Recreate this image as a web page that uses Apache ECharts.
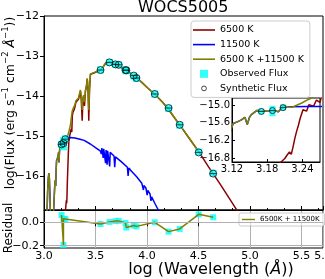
<!DOCTYPE html>
<html><head><meta charset="utf-8">
<script src="https://cdn.jsdelivr.net/npm/echarts@6/dist/echarts.min.js"></script>
<style>html,body{margin:0;padding:0;background:#fff}#c{width:325px;height:279px}</style>
</head><body><div id="c"></div>
<script>
// ---------------- data ----------------
const chartTitle = 'WOCS5005';
const xTickValues = [3.0, 3.5, 4.0, 4.5, 5.0, 5.5];
const mainYTickValues = [-16, -15, -14, -13, -12];
const residYTickValues = [-0.2, 0.0];
const insetXTickValues = [3.12, 3.18, 3.24];
const insetYTickValues = [-16.8, -16.2, -15.6, -15.0];

// model 6500 K : [log wavelength, log flux]
const model6500 = [[3.195,-17.1],[3.204,-16.93],[3.21,-16.82],[3.214,-16.7],[3.218,-16.6],[3.221,-16.68],[3.224,-16.43],[3.227,-16.14],[3.23,-15.9],[3.233,-15.7],[3.236,-15.46],[3.241,-15.15],[3.247,-15.2],[3.251,-14.98],[3.259,-15.03],[3.264,-14.82],[3.27,-14.9],[3.275,-14.5],[3.28,-14.42],[3.29,-14.36],[3.30,-14.28],[3.31,-14.16],[3.322,-14.12],[3.335,-14.08],[3.345,-14.03],[3.354,-13.88],[3.362,-14.1],[3.371,-14.62],[3.378,-14.1],[3.385,-14.01],[3.393,-14.25],[3.403,-13.87],[3.412,-13.77],[3.42,-13.58],[3.428,-13.85],[3.435,-14.62],[3.442,-13.85],[3.451,-13.46],[3.47,-13.45],[3.49,-13.42],[3.516,-13.39],[3.549,-13.36],[3.57,-13.29],[3.597,-13.19],[3.614,-13.15],[3.636,-13.15],[3.66,-13.18],[3.69,-13.21],[3.72,-13.25],[3.76,-13.3],[3.80,-13.37],[3.85,-13.45],[3.90,-13.55],[3.95,-13.66],[4.00,-13.78],[4.05,-13.9],[4.076,-13.96],[4.10,-14.02],[4.15,-14.15],[4.20,-14.3],[4.25,-14.48],[4.30,-14.66],[4.35,-14.84],[4.40,-15.02],[4.45,-15.2],[4.50,-15.38],[4.55,-15.58],[4.60,-15.78],[4.65,-15.97],[4.70,-16.16],[4.75,-16.36],[4.80,-16.56],[4.85,-16.76],[4.90,-16.96]];

// model 11500 K
const model11500 = [[3.025,-17.3],[3.035,-16.4],[3.042,-16.05],[3.047,-15.93],[3.052,-16.05],[3.058,-16.5],[3.065,-17.3],[3.075,-17.5],[3.09,-17.1],[3.098,-16.6],[3.105,-16.2],[3.11,-16.1],[3.114,-16.25],[3.118,-15.85],[3.122,-15.62],[3.13,-15.56],[3.136,-15.5],[3.142,-15.41],[3.146,-15.66],[3.15,-15.4],[3.153,-15.32],[3.162,-15.18],[3.17,-15.19],[3.182,-15.2],[3.19,-15.17],[3.199,-15.22],[3.207,-15.05],[3.22,-15.05],[3.25,-15.04],[3.30,-15.05],[3.35,-15.08],[3.39,-15.11],[3.45,-15.2],[3.50,-15.29],[3.549,-15.38],[3.557,-15.45],[3.562,-15.3],[3.57,-15.31],[3.575,-15.55],[3.58,-15.32],[3.592,-15.34],[3.598,-15.68],[3.603,-15.35],[3.609,-15.36],[3.613,-15.72],[3.618,-15.37],[3.634,-15.4],[3.638,-15.76],[3.643,-15.41],[3.68,-15.5],[3.687,-15.78],[3.694,-15.52],[3.75,-15.64],[3.81,-15.78],[3.817,-16.0],[3.824,-15.8],[3.85,-15.88],[3.90,-16.02],[3.95,-16.18],[3.966,-16.35],[3.97,-16.24],[3.99,-16.3],[4.002,-16.48],[4.008,-16.36],[4.03,-16.45],[4.039,-16.62],[4.045,-16.52],[4.08,-16.7],[4.10,-16.8],[4.12,-16.9]];

// combined 6500 K + 11500 K
const modelCombined = [[3.025,-17.3],[3.035,-16.4],[3.042,-16.05],[3.047,-15.93],[3.052,-16.05],[3.058,-16.5],[3.065,-17.3],[3.075,-17.5],[3.09,-17.1],[3.098,-16.6],[3.105,-16.2],[3.11,-16.1],[3.114,-16.25],[3.118,-15.85],[3.122,-15.62],[3.13,-15.56],[3.136,-15.5],[3.142,-15.41],[3.146,-15.66],[3.15,-15.4],[3.153,-15.32],[3.162,-15.18],[3.17,-15.19],[3.182,-15.2],[3.19,-15.17],[3.199,-15.22],[3.207,-15.02],[3.215,-15.05],[3.222,-15.07],[3.23,-15.0],[3.239,-14.92],[3.25,-14.8],[3.256,-14.74],[3.265,-14.55],[3.274,-14.38],[3.285,-14.3],[3.30,-14.22],[3.31,-14.12],[3.322,-14.08],[3.335,-14.05],[3.345,-14.0],[3.354,-13.85],[3.362,-14.0],[3.371,-14.35],[3.378,-14.05],[3.385,-13.98],[3.393,-14.15],[3.403,-13.85],[3.412,-13.75],[3.42,-13.56],[3.428,-13.8],[3.435,-14.35],[3.442,-13.8],[3.451,-13.45],[3.47,-13.44],[3.49,-13.41],[3.516,-13.38],[3.549,-13.35],[3.57,-13.28],[3.597,-13.18],[3.614,-13.14],[3.636,-13.14],[3.66,-13.17],[3.69,-13.2],[3.72,-13.24],[3.76,-13.3],[3.80,-13.36],[3.85,-13.45],[3.90,-13.55],[3.95,-13.66],[4.00,-13.78],[4.05,-13.9],[4.076,-13.95],[4.10,-14.02],[4.15,-14.15],[4.20,-14.3],[4.25,-14.48],[4.30,-14.66],[4.35,-14.83],[4.40,-15.02],[4.45,-15.2],[4.50,-15.38]];

// photometry
const obsLogWl   = [3.170, 3.189, 3.189, 3.207, 3.549, 3.636, 3.694, 3.726, 3.791, 3.800, 3.872, 3.898, 4.076, 4.210, 4.318, 4.503, 4.643];
const obsLogFlux = [-15.21, -15.12, -15.27, -15.07, -13.35, -13.16, -13.21, -13.22, -13.35, -13.37, -13.50, -13.56, -13.95, -14.31, -14.73, -15.40, -15.93];
const synLogWl   = [3.170, 3.189, 3.207, 3.549, 3.636, 3.694, 3.726, 3.791, 3.800, 3.872, 3.898, 4.076, 4.210, 4.318, 4.503, 4.643];
const synLogFlux = [-15.21, -15.18, -15.08, -13.35, -13.16, -13.21, -13.22, -13.35, -13.36, -13.49, -13.55, -13.95, -14.30, -14.72, -15.41, -15.94];
const residuals  = [0.062, -0.194, 0.030, 0.028, -0.015, 0.003, 0.010, 0.012, -0.005, -0.045, -0.028, -0.035, 0.000, -0.080, -0.057, 0.068, 0.043];

// ---------------- chart ----------------
const FONT = 'DejaVu Sans';
const zip = (a, b) => a.map((v, i) => [v, b[i]]);
const obsPts = zip(obsLogWl, obsLogFlux);
const synPts = zip(synLogWl, synLogFlux);
const resPts = zip(obsLogWl, residuals);
const minus = (v, d) => (v < 0 ? '\u2212' : '') + Math.abs(v).toFixed(d);

const C_RED = '#8b0000', C_BLUE = '#0000ff', C_OLIVE = '#808000', C_CYAN = '#00ffff';
const synSymbol = 'path://M0,5A5,5,0,1,1,10,5A5,5,0,1,1,0,5ZM0,5L10,5';
const lineIcon = 'path://M0,0H22V1.6H0Z';

const chart = echarts.init(document.getElementById('c'), null, {renderer: 'canvas'});

function lineSeries(name, data, color, xi, z) {
  return {type: 'line', name, data, xAxisIndex: xi, yAxisIndex: xi, symbol: 'none', showSymbol: false,
    lineStyle: {color, width: 1.5}, itemStyle: {color}, z, silent: true, animation: false, clip: true};
}
function obsSeries(xi, size) {
  return {type: 'scatter', name: 'Observed Flux', data: obsPts, xAxisIndex: xi, yAxisIndex: xi,
    symbol: 'rect', symbolSize: size, itemStyle: {color: C_CYAN}, z: 5, silent: true, clip: true};
}
function synSeries(xi, size) {
  return {type: 'scatter', name: 'Synthetic Flux', data: synPts, xAxisIndex: xi, yAxisIndex: xi,
    symbol: synSymbol, symbolSize: size, itemStyle: {color: 'rgba(0,0,0,0)', borderColor: '#000', borderWidth: 0.9},
    z: 6, silent: true, clip: true};
}

const axisLineBlack = {show: true, lineStyle: {color: '#000', width: 1}};

chart.setOption({
  animation: false,
  backgroundColor: '#fff',
  textStyle: {fontFamily: FONT},
  title: {text: chartTitle, left: 138, top: 0, padding: 0,
    textStyle: {fontFamily: FONT, fontSize: 16, fontWeight: 'normal', color: '#000'}},
  grid: [
    {left: 44, top: 16, width: 279, height: 194, show: true, borderColor: '#000', borderWidth: 1, backgroundColor: 'transparent', outerBoundsMode: 'none', containLabel: false},
    {left: 44, top: 210, width: 279, height: 38, show: true, borderColor: '#000', borderWidth: 1, backgroundColor: 'transparent', outerBoundsMode: 'none', containLabel: false},
    {left: 232, top: 98, width: 88, height: 64, show: true, borderColor: '#000', borderWidth: 1, backgroundColor: '#fff', outerBoundsMode: 'none', containLabel: false}
  ],
  xAxis: [
    {type: 'value', gridIndex: 0, min: 3.0, max: 5.71, interval: 0.5, axisLine: axisLineBlack,
      axisTick: {show: true, inside: true, length: 4, lineStyle: {color: '#000'}},
      minorTick: {show: true, splitNumber: 3, length: 2, lineStyle: {color: '#000'}},
      axisLabel: {show: false}, splitLine: {show: false}},
    {type: 'value', gridIndex: 1, min: 3.0, max: 5.71, interval: 0.5, axisLine: axisLineBlack,
      axisTick: {show: true, inside: false, length: 4, lineStyle: {color: '#000'}},
      axisLabel: {show: true, inside: false, fontFamily: FONT, fontSize: 11, color: '#000', margin: 3, formatter: v => v.toFixed(1)},
      splitLine: {show: true, lineStyle: {color: '#b0b0b0', width: 1}}},
    {type: 'value', gridIndex: 2, min: 3.12, max: 3.27, axisLine: axisLineBlack,
      axisTick: {show: true, inside: true, length: 3, customValues: insetXTickValues, lineStyle: {color: '#000'}},
      axisLabel: {show: true, inside: false, showMinLabel: true, showMaxLabel: true, hideOverlap: false, customValues: insetXTickValues, fontFamily: FONT, fontSize: 10, color: '#000', margin: 2, formatter: v => v.toFixed(2)},
      splitLine: {show: false}}
  ],
  yAxis: [
    {type: 'value', gridIndex: 0, min: -16.85, max: -12, axisLine: axisLineBlack,
      axisTick: {show: true, inside: false, length: 4, customValues: mainYTickValues, lineStyle: {color: '#000'}},
      axisLabel: {show: true, inside: false, showMinLabel: true, showMaxLabel: true, customValues: mainYTickValues, fontFamily: FONT, fontSize: 11, color: '#000', margin: 5, formatter: v => minus(v, 0)},
      splitLine: {show: false}},
    {type: 'value', gridIndex: 1, min: -0.22, max: 0.105, axisLine: axisLineBlack,
      axisTick: {show: true, inside: false, length: 4, customValues: residYTickValues, lineStyle: {color: '#000'}},
      axisLabel: {show: true, inside: false, showMinLabel: true, showMaxLabel: true, customValues: residYTickValues, fontFamily: FONT, fontSize: 11, color: '#000', margin: 5, formatter: v => minus(v, 1)},
      splitLine: {show: false}},
    {type: 'value', gridIndex: 2, min: -16.94, max: -14.75, axisLine: axisLineBlack,
      axisTick: {show: true, inside: true, length: 3, customValues: insetYTickValues, lineStyle: {color: '#000'}},
      axisLabel: {show: true, inside: false, showMinLabel: true, showMaxLabel: true, hideOverlap: false, customValues: insetYTickValues, fontFamily: FONT, fontSize: 10, color: '#000', margin: 2, formatter: v => minus(v, 1)},
      splitLine: {show: false}}
  ],
  legend: [
    {orient: 'vertical', left: 191, top: 21, padding: [4, 6, 4, 2], itemGap: 4.6, itemWidth: 22, itemHeight: 8,
      borderColor: '#cccccc', borderWidth: 1, borderRadius: 3, backgroundColor: 'rgba(255,255,255,0.85)',
      textStyle: {fontFamily: FONT, fontSize: 9.5, color: '#000', lineHeight: 10},
      selectedMode: false,
      data: [
        {name: '6500 K', icon: lineIcon},
        {name: '11500 K', icon: lineIcon},
        {name: '6500 K +11500 K', icon: lineIcon},
        {name: 'Observed Flux', icon: 'path://M0,0H10V10H0Z'},
        {name: 'Synthetic Flux', icon: 'path://M0,0M2,5A3,3,0,1,1,8,5A3,3,0,1,1,2,5ZM10,10', itemStyle: {color: 'rgba(0,0,0,0)', borderColor: '#000', borderWidth: 0.9}}
      ]},
    {orient: 'vertical', left: 239, top: 213, padding: [3, 5, 3, 3], itemWidth: 13, itemHeight: 6,
      borderColor: '#cccccc', borderWidth: 1, borderRadius: 2, backgroundColor: 'rgba(255,255,255,0.85)',
      textStyle: {fontFamily: FONT, fontSize: 7, color: '#000', lineHeight: 7}, selectedMode: false,
      data: [{name: '6500K + 11500K', icon: 'path://M0,0H13V1.4H0Z'}]}
  ],
  graphic: [
    {type: 'text', x: 9, y: 103, rotation: Math.PI / 2, z: 100,
      style: {text: '{a|log(Flux (erg s}{s|\u22121}{a| cm}{s|\u22122}{a| }{i|\u00c5}{s|\u22121}{a|))}',
        align: 'center', verticalAlign: 'middle', fill: '#000',
        rich: {a: {fontFamily: FONT, fontSize: 12.5, lineHeight: 16, verticalAlign: 'bottom'},
               i: {fontFamily: FONT, fontSize: 12.5, fontStyle: 'italic', lineHeight: 16, verticalAlign: 'bottom'},
               s: {fontFamily: FONT, fontSize: 8.5, lineHeight: 16, verticalAlign: 'top'}}}},
    {type: 'text', x: 9, y: 228, rotation: Math.PI / 2, z: 100,
      style: {text: 'Residual', align: 'center', verticalAlign: 'middle', fill: '#000', font: '12px "DejaVu Sans"'}},
    {type: 'text', x: 211, y: 270, z: 100,
      style: {text: '{a|log (Wavelength (}{i|\u00c5}{a|))}', align: 'center', verticalAlign: 'middle', fill: '#000',
        rich: {a: {fontFamily: FONT, fontSize: 16}, i: {fontFamily: FONT, fontSize: 16, fontStyle: 'italic'}}}}
  ],
  series: [
    lineSeries('6500 K', model6500, C_RED, 0, 2),
    lineSeries('11500 K', model11500, C_BLUE, 0, 3),
    lineSeries('6500 K +11500 K', modelCombined, C_OLIVE, 0, 4),
    obsSeries(0, 7),
    synSeries(0, 7),
    // residual panel
    {type: 'scatter', name: 'resid-obs', data: resPts, xAxisIndex: 1, yAxisIndex: 1, symbol: 'rect', symbolSize: 6,
      itemStyle: {color: C_CYAN}, z: 3, silent: true,
      markLine: {silent: true, symbol: 'none', label: {show: false}, animation: false,
        lineStyle: {color: '#b0b0b0', width: 1, type: 'solid'}, data: [{yAxis: 0}, {yAxis: -0.2}]}},
    {type: 'line', name: '6500K + 11500K', data: resPts, xAxisIndex: 1, yAxisIndex: 1, symbol: 'none', showSymbol: false,
      lineStyle: {color: C_OLIVE, width: 1.5}, itemStyle: {color: C_OLIVE}, z: 4, silent: true},
    // inset
    lineSeries('6500 K', model6500, C_RED, 2, 12),
    lineSeries('11500 K', model11500, C_BLUE, 2, 13),
    lineSeries('6500 K +11500 K', modelCombined, C_OLIVE, 2, 14),
    Object.assign(obsSeries(2, 6), {z: 15}),
    Object.assign(synSeries(2, 6), {z: 16})
  ]
});
</script>
</body></html>
